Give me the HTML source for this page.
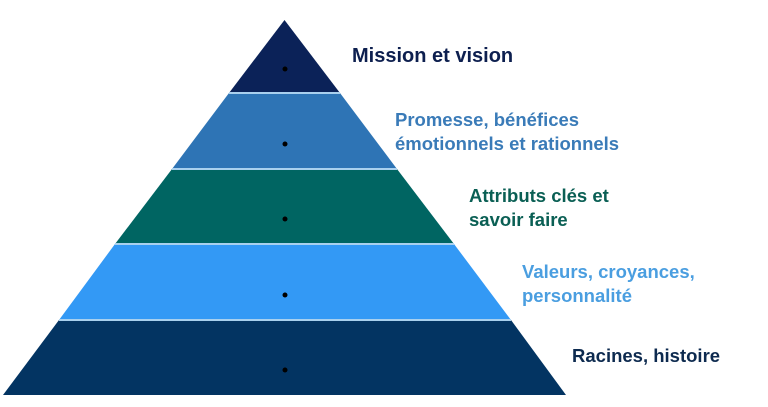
<!DOCTYPE html>
<html><head><meta charset="utf-8"><style>
html,body{margin:0;padding:0;background:#fff;width:768px;height:407px;overflow:hidden}
.t{position:absolute;font-family:"Liberation Sans",sans-serif;font-weight:bold;font-size:18.5px;line-height:24px;white-space:nowrap;letter-spacing:0}
</style></head><body>
<svg width="768" height="407" style="position:absolute;left:0;top:0">
<polygon points="284.5,20 229,93 340,93" fill="#0b2258"/>
<polygon points="229,93 340,93 397,169 172,169" fill="#2e74b5"/>
<polygon points="172,169 397,169 454,244 115,244" fill="#006562"/>
<polygon points="115,244 454,244 511,320 59,320" fill="#3399f5"/>
<polygon points="59,320 511,320 566,395 3,395" fill="#033462"/>
<g stroke="#a9d0ee" stroke-width="2">
<line x1="229" y1="93" x2="340" y2="93"/>
<line x1="172" y1="169" x2="397" y2="169"/>
<line x1="115" y1="244" x2="454" y2="244"/>
<line x1="59" y1="320" x2="511" y2="320"/>
</g>
<g fill="#000">
<circle cx="285" cy="69" r="2.5"/><circle cx="285" cy="144" r="2.5"/>
<circle cx="285" cy="219" r="2.5"/><circle cx="285" cy="295" r="2.5"/>
<circle cx="285" cy="370" r="2.5"/>
</g>
</svg>
<div class="t" style="left:352px;top:44px;color:#0d1f4f;font-size:20px">Mission et vision</div>
<div class="t" style="left:395px;top:108px;color:#3a7bb8">Promesse, bénéfices<br>émotionnels et rationnels</div>
<div class="t" style="left:469px;top:184px;color:#0a5f54">Attributs clés et<br>savoir faire</div>
<div class="t" style="left:522px;top:260px;color:#4a9ee0">Valeurs, croyances,<br>personnalité</div>
<div class="t" style="left:572px;top:344px;color:#0d2a4f">Racines, histoire</div>
</body></html>
